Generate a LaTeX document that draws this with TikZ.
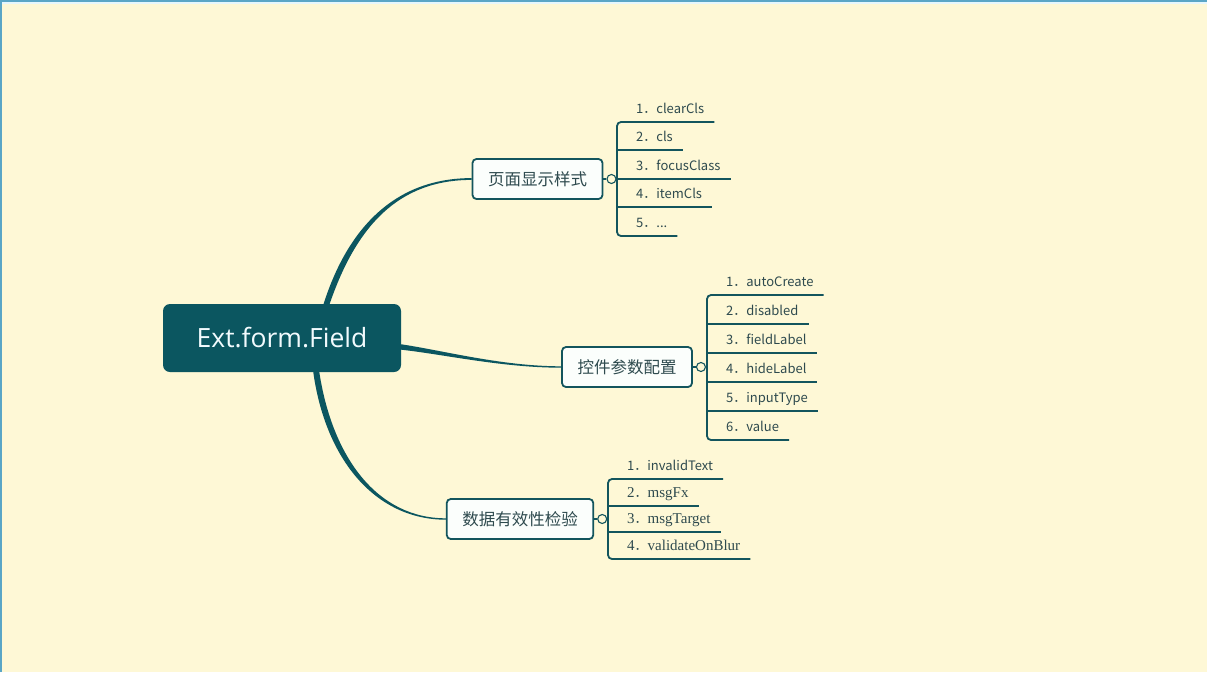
\documentclass[tikz,border=0pt]{standalone}
\usepackage{fontspec}
\setmainfont{Noto Sans CJK SC}
\newfontfamily\rootfont{Open Sans}
\newfontfamily\serfont{Liberation Serif}
\usetikzlibrary{positioning,backgrounds}
\definecolor{MapPaper}{HTML}{FEF8D6}
\definecolor{MapTeal}{HTML}{0B5660}
\definecolor{MapLine}{HTML}{13555D}
\definecolor{MapText}{HTML}{2E4A4E}
\definecolor{MapFrame}{HTML}{5AA6C6}
\definecolor{MapBox}{HTML}{FBFEFC}
\newcommand{\ser}[1]{{\serfont\fontsize{15}{16}\selectfont #1}}

\begin{document}
\begin{tikzpicture}[x=1pt, y=-1pt,
    topic/.style={draw=MapLine, line width=1.8pt, fill=MapBox, rounded corners=4pt,
      inner xsep=15.5pt, minimum height=40pt, text=MapText,
      font=\fontsize{16.5}{18}\selectfont},
    knob/.style={circle, draw=MapLine, line width=1.1pt, fill=MapPaper,
      minimum size=9pt, inner sep=0pt},
    leaf/.style={anchor=south west, inner xsep=10pt, inner ysep=0pt, text height=10pt,
      text depth=8.5pt, text=MapText, font=\fontsize{13}{15}\selectfont},
    twig/.style={draw=MapLine, line width=1.8pt}]
  \useasboundingbox (0,0) rectangle (1207,672);
  \fill[MapPaper] (0,0) rectangle (1207,672);
  % Frame
  \draw[MapFrame, line width=2pt] (0,1) -- (1207,1);
  \draw[cyan!10, line width=1.5pt] (2,3) -- (1207,3);
  \draw[MapFrame, line width=2pt] (1,0) -- (1,672);

  % Root and topics
  \node[fill=MapTeal, rounded corners=7pt, minimum width=238pt, minimum height=68pt,
    text=cyan!5, font=\rootfont\fontsize{26.5}{30}\selectfont] (root) at (282,338) {Ext.form.Field};
  \node[topic] (style) at (537.5,179) {页面显示样式};
  \node[topic] (params) at (627,367) {控件参数配置};
  \node[topic] (valid) at (520,519) {数据有效性检验};

  % Branches
  \fill[MapTeal] ([xshift=41pt,yshift=-2pt]root.north) .. controls +(25,-80) and +(-75,0)
    .. ([yshift=0.9pt]style.west) -- ([yshift=-0.9pt]style.west) .. controls +(-73,0) and +(27,-80)
    .. ([xshift=47pt,yshift=-2pt]root.north) -- cycle;
  \fill[MapTeal] ([xshift=-2pt,yshift=-6pt]root.east) .. controls +(42,6) and +(-60,0)
    .. ([yshift=0.7pt]params.west) -- ([yshift=-0.7pt]params.west) .. controls +(-60,0) and +(40,4)
    .. ([xshift=-2pt,yshift=-11.5pt]root.east) -- cycle;
  \fill[MapTeal] ([xshift=31pt,yshift=2pt]root.south) .. controls +(12,90) and +(-70,0)
    .. ([yshift=-0.7pt]valid.west) -- ([yshift=0.7pt]valid.west) .. controls +(-68,0) and +(13,88)
    .. ([xshift=37pt,yshift=2pt]root.south) -- cycle;

  % Page style items
  \node[knob, right=3pt of style] (sk) {};
  \coordinate (sb) at (617,179);
  \node[leaf] (s1) at (626,122) {1．clearCls};
  \node[leaf] (s2) at (626,150) {2．cls};
  \node[leaf] (s3) at (626,179) {3．focusClass};
  \node[leaf] (s4) at (626,207) {4．itemCls};
  \node[leaf] (s5) at (626,236) {5．...};
  \draw[twig] (style) -- (sk);
  \draw[twig] (sk) -- (sb);
  \draw[twig, rounded corners=4pt] (s1.south east) -- (s1.south -| sb) -- (s5.south -| sb) -- (s5.south east);
  \draw[twig] (s2.south -| sb) -- (s2.south east);
  \draw[twig] (s3.south -| sb) -- (s3.south east);
  \draw[twig] (s4.south -| sb) -- (s4.south east);

  % Parameter items
  \node[knob, right=3pt of params] (pk) {};
  \coordinate (pb) at (707,367);
  \node[leaf] (p1) at (716,295) {1．autoCreate};
  \node[leaf] (p2) at (716,324) {2．disabled};
  \node[leaf] (p3) at (716,353) {3．fieldLabel};
  \node[leaf] (p4) at (716,382) {4．hideLabel};
  \node[leaf] (p5) at (716,411) {5．inputType};
  \node[leaf] (p6) at (716,440) {6．value};
  \draw[twig] (params) -- (pk);
  \draw[twig] (pk) -- (pb);
  \draw[twig, rounded corners=4pt] (p1.south east) -- (p1.south -| pb) -- (p6.south -| pb) -- (p6.south east);
  \draw[twig] (p2.south -| pb) -- (p2.south east);
  \draw[twig] (p3.south -| pb) -- (p3.south east);
  \draw[twig] (p4.south -| pb) -- (p4.south east);
  \draw[twig] (p5.south -| pb) -- (p5.south east);

  % Validation items
  \node[knob, right=3pt of valid] (vk) {};
  \coordinate (vb) at (608,520);
  \node[leaf] (v1) at (617,479) {1．invalidText};
  \node[leaf] (v2) at (617,506) {\ser{2}．\ser{msgFx}};
  \node[leaf] (v3) at (617,532) {\ser{3}．\ser{msgTarget}};
  \node[leaf] (v4) at (617,559) {\ser{4}．\ser{validateOnBlur}};
  \draw[twig] (valid) -- (vk);
  \draw[twig] (vk) -- (vb);
  \draw[twig, rounded corners=4pt] (v1.south east) -- (v1.south -| vb) -- (v4.south -| vb) -- (v4.south east);
  \draw[twig] (v2.south -| vb) -- (v2.south east);
  \draw[twig] (v3.south -| vb) -- (v3.south east);
\end{tikzpicture}
\end{document}
